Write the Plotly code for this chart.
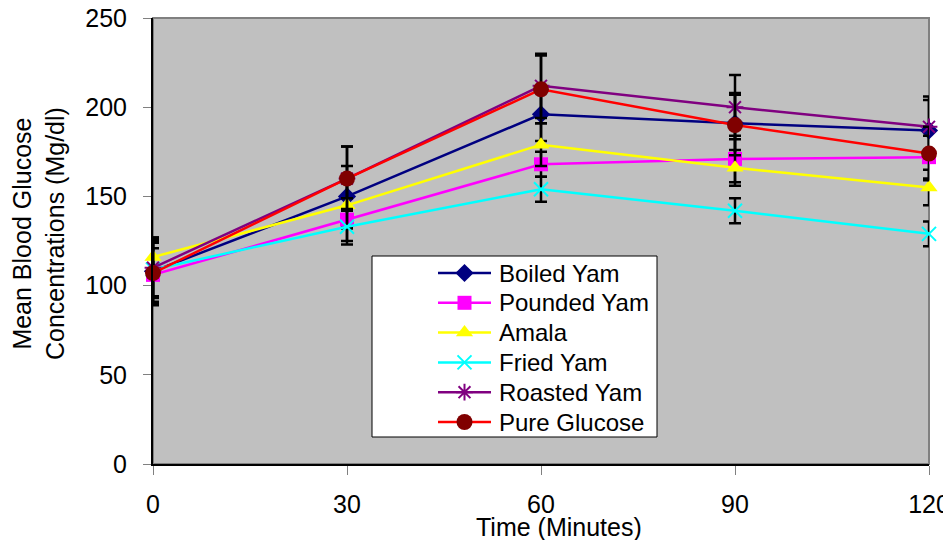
import plotly.graph_objects as go

time_min = [0, 30, 60, 90, 120]
x_ticks = [0, 30, 60, 90, 120]
y_ticks = [0, 50, 100, 150, 200, 250]

series_names = ["Boiled Yam", "Pounded Yam", "Amala", "Fried Yam", "Roasted Yam", "Pure Glucose"]
boiled_yam = [108, 150, 196, 191, 187]
pounded_yam = [106, 137, 168, 171, 172]
amala = [116, 145, 179, 166, 155]
fried_yam = [109, 133, 154, 142, 129]
roasted_yam = [110, 160, 212, 200, 189]
pure_glucose = [107, 160, 210, 190, 174]

boiled_err = [18, 17, 15, 17, 17]
pounded_err = [15, 12, 7, 13, 12]
amala_err = [11, 13, 12, 10, 10]
fried_err = [15, 10, 7, 7, 7]
roasted_err = [17, 18, 18, 18, 17]
pure_err = [18, 18, 19, 17, 15]

values = [boiled_yam, pounded_yam, amala, fried_yam, roasted_yam, pure_glucose]
errors = [boiled_err, pounded_err, amala_err, fried_err, roasted_err, pure_err]

line_colors = ["#000080", "#FF00FF", "#FFFF00", "#00FFFF", "#800080", "#FF0000"]
marker_colors = ["#000080", "#FF00FF", "#FFFF00", "#00FFFF", "#800080", "#800000"]
symbols = ["diamond", "square", "triangle-up", "x-thin", "asterisk-open", "circle"]
sizes = [14, 14, 15, 14, 14, 16]

FONT = "Liberation Sans, Arial, sans-serif"

# Page body has an 8px margin: the figure is shifted by (8, 8) on screen.
OFF = 8
SCR_W, SCR_H = 951, 548
W, H = SCR_W, SCR_H - 2 * OFF
PL, PR, PT, PB = 153, 929, 18, 464          # plot area in screen pixels
L, R, T, B = PL - OFF, (W + OFF) - PR, PT - OFF, (H + OFF) - PB


def marker_style(sym, mc, sz):
    mk = dict(symbol=sym, size=sz, color=mc, opacity=1)
    if sym in ("x-thin", "asterisk-open"):
        mk["line"] = dict(color=mc, width=2)
    else:
        mk["line"] = dict(width=0)
    return mk


fig = go.Figure()
for name, v, e, lc, mc, sym, sz in zip(series_names, values, errors, line_colors, marker_colors, symbols, sizes):
    fig.add_trace(go.Scatter(
        x=time_min, y=v, name=name, mode="lines+markers",
        line=dict(color=lc, width=2.5),
        marker=marker_style(sym, mc, sz),
        error_y=dict(type="data", array=e, visible=True, color="black", thickness=2.5, width=6),
        cliponaxis=False, showlegend=False,
    ))

# Legend drawn on an overlay axis measured in screen pixels
LEG_X0, LEG_X1, LEG_Y0, LEG_Y1 = 372, 657, 256, 437
LEG_LINE_X0, LEG_LINE_X1, LEG_TEXT_X = 438, 491, 497
LEG_ROW0, LEG_ROW_STEP = 273, 29.8
annotations = []
for i, (name, lc, mc, sym, sz) in enumerate(zip(series_names, line_colors, marker_colors, symbols, sizes)):
    ry = LEG_ROW0 + i * LEG_ROW_STEP
    mk = marker_style(sym, mc, sz)
    mk["size"] = [0, sz, 0]
    fig.add_trace(go.Scatter(
        x=[LEG_LINE_X0, (LEG_LINE_X0 + LEG_LINE_X1) / 2, LEG_LINE_X1], y=[ry, ry, ry],
        xaxis="x2", yaxis="y2", mode="lines+markers",
        line=dict(color=lc, width=2.5), marker=mk,
        showlegend=False, hoverinfo="skip", name=name,
    ))
    annotations.append(dict(
        text=name, xref="x2", yref="y2", x=LEG_TEXT_X, y=ry,
        xanchor="left", yanchor="middle", showarrow=False,
        font=dict(family=FONT, size=24, color="black"),
    ))


def px_x(p):
    return (p - PL) / (PR - PL)


def px_y(p):
    return (PB - p) / (PB - PT)


annotations += [
    dict(text="Mean Blood Glucose<br>Concentrations (Mg/dl)", xref="paper", yref="paper",
         x=px_x(39), y=px_y(234), xanchor="center", yanchor="middle",
         textangle=-90, showarrow=False, font=dict(family=FONT, size=25)),
    dict(text="Time (Minutes)", xref="paper", yref="paper",
         x=px_x(559), y=px_y(527), xanchor="center", yanchor="middle",
         showarrow=False, font=dict(family=FONT, size=25)),
]

fig.update_layout(
    width=W, height=H,
    margin=dict(l=L, r=R, t=T, b=B, autoexpand=False),
    paper_bgcolor="white",
    plot_bgcolor="#C0C0C0",
    font=dict(family=FONT, size=25, color="black"),
    showlegend=False,
    xaxis=dict(
        range=[0, 120], tickvals=x_ticks, ticktext=[str(t) for t in x_ticks],
        showgrid=False, zeroline=False, automargin=False,
        showline=True, linecolor="black", linewidth=2,
        ticks="outside", ticklen=9, tickcolor="#808080", tickwidth=1,
        tickfont=dict(family=FONT, size=25),
        ticklabelstandoff=8, ticklabeloverflow="allow",
    ),
    yaxis=dict(
        range=[0, 250], tickvals=y_ticks,
        showgrid=False, zeroline=False, automargin=False,
        showline=True, linecolor="black", linewidth=2,
        ticks="outside", ticklen=8, tickcolor="#808080", tickwidth=1,
        tickfont=dict(family=FONT, size=25),
        ticklabelstandoff=11, ticklabeloverflow="allow",
    ),
    xaxis2=dict(overlaying="x", range=[PL, PR], visible=False, fixedrange=True),
    yaxis2=dict(overlaying="y", range=[PB, PT], visible=False, fixedrange=True),
    shapes=[
        dict(type="rect", xref="paper", yref="paper", x0=0, x1=1, y0=0, y1=1,
             line=dict(color="#808080", width=2), fillcolor="rgba(0,0,0,0)", layer="below"),
        dict(type="rect", xref="x2", yref="y2",
             x0=LEG_X0, x1=LEG_X1, y0=LEG_Y0, y1=LEG_Y1,
             line=dict(color="black", width=1), fillcolor="white", layer="below"),
    ],
    annotations=annotations,
)

fig.write_html("out.html")
